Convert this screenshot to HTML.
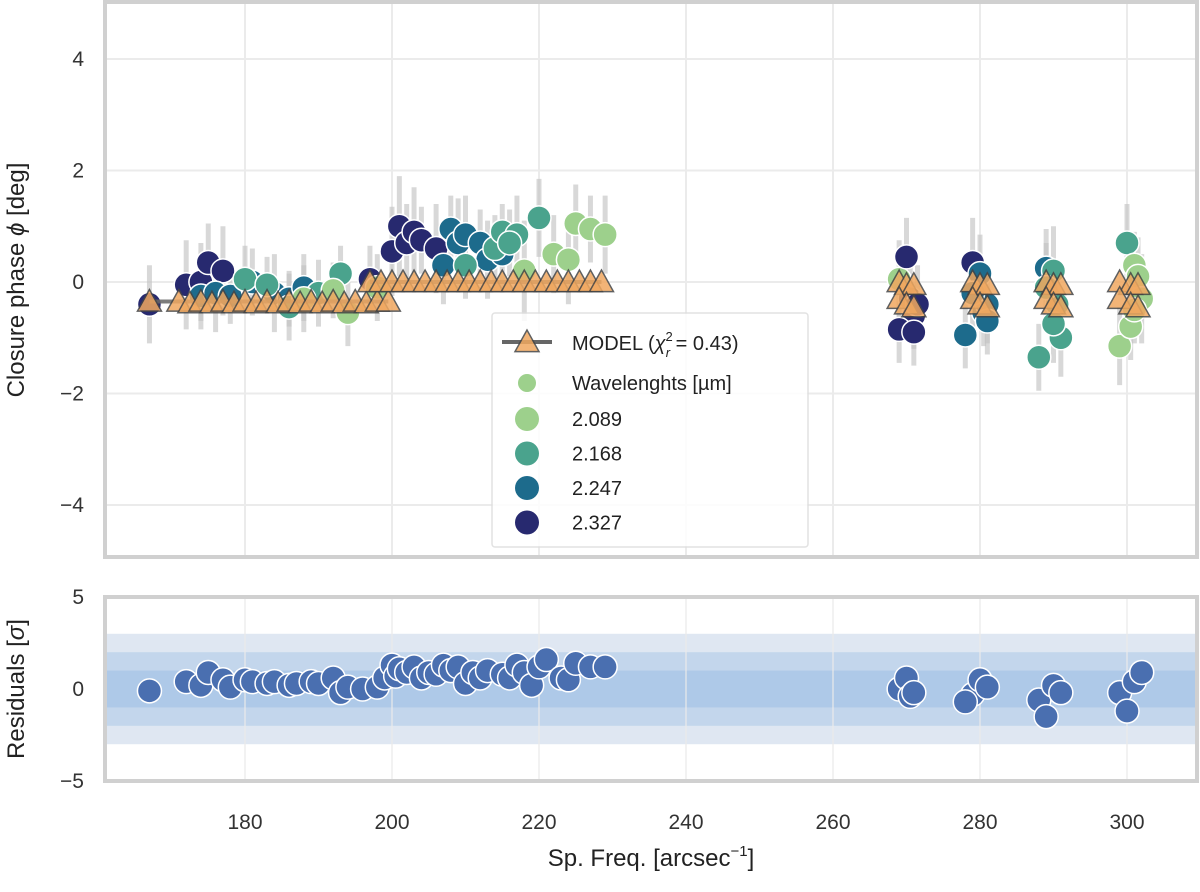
<!DOCTYPE html>
<html><head><meta charset="utf-8"><style>
body{margin:0;background:#fff;font-family:"Liberation Sans",sans-serif}
</style></head><body>
<svg id="c" width="1200" height="887" xmlns="http://www.w3.org/2000/svg" font-family="Liberation Sans, sans-serif"></svg>
<script>
const xTicks=[180,200,220,240,260,280,300];
const yTicksTop=[4,2,0,-2,-4];
const yTicksBot=[5,0,-5];
const wlLabels=["2.089","2.168","2.247","2.327"];
const wlColors=["#9dd08c","#4aa38d","#1d6b8c","#27296f"];
// data points: frequency, phase, error, wavelength index
const ptFreq=[167,172,174,175,177,197,200,201,202,203,204,206, 174,176,178,181,184,186,188,207,208,209,210,212,213,215, 180,183,186,190,193,210,214,215,217,220,216, 188,192,194,198,218,222,224,225,227,229,
 269,270,270.5,271,271.5,269,271, 279,280,280.5,281,279,278,281, 289,290,290.5,291,288,290,289, 300,301,301.5,302,299,300.5,301];
const ptPhase=[-0.4,-0.05,0.0,0.35,0.2,0.05,0.55,1.0,0.7,0.9,0.75,0.6, -0.25,-0.2,-0.25,0.0,-0.2,-0.3,-0.1,0.3,0.95,0.7,0.85,0.7,0.4,0.5, 0.05,-0.05,-0.45,-0.2,0.15,0.3,0.6,0.9,0.85,1.15,0.7, -0.3,-0.15,-0.55,-0.1,0.2,0.5,0.4,1.05,0.95,0.85,
 0.05,0.45,-0.3,-0.6,-0.4,-0.85,-0.9, 0.35,0.15,-0.55,-0.4,-0.2,-0.95,-0.7, 0.25,0.2,-0.4,-1.0,-1.35,-0.75,-0.1, 0.7,0.3,0.1,-0.3,-1.15,-0.8,-0.5];
const ptErr=[0.7,0.8,0.7,0.7,0.8,0.6,0.8,0.9,0.7,0.8,0.6,0.8, 0.6,0.7,0.5,0.6,0.7,0.5,0.6,0.7,0.6,0.8,0.7,0.6,0.7,0.6, 0.6,0.5,0.6,0.6,0.5,0.6,0.6,0.5,0.7,0.7,0.6, 0.6,0.5,0.6,0.6,0.9,0.7,0.8,0.7,0.6,0.7,
 0.7,0.7,0.6,0.6,0.7,0.6,0.6, 0.8,0.7,0.6,0.7,0.7,0.6,0.6, 0.7,0.8,0.6,0.7,0.6,0.7,0.8, 0.7,0.6,0.7,0.8,0.7,0.6,0.6];
const ptWl=[3,3,3,3,3,3,3,3,3,3,3,3, 2,2,2,2,2,2,2,2,2,2,2,2,2,2, 1,1,1,1,1,1,1,1,1,1,1, 0,0,0,0,0,0,0,0,0,0,0,
 3,3,3,3,3,3,3, 2,2,2,2,2,2,2, 1,1,1,1,1,1,1, 0,0,0,0,0,0,0];
const modelFreq=[167,171,172.5,174,175.5,177,178.5,180,181.5,183,184.5,186,187.5,189,190.5,192,193.5,195,196.5,198,199.5,
 197,198.5,200,201.5,203,204.5,206,207.5,209,210.5,212,213.5,215,216.5,218,219.5,221,222.5,224,225.5,227,228.5,
 269,270,271,269,270,271, 279,280,281,279,280,281, 289,290,291,289,290,291, 299,300.5,301.5,299,300.5,301.5];
const modelPhase=[-0.35,-0.35,-0.38,-0.35,-0.38,-0.35,-0.38,-0.35,-0.38,-0.35,-0.38,-0.35,-0.38,-0.35,-0.38,-0.35,-0.38,-0.35,-0.38,-0.35,-0.35,
 0.0,0.0,0.0,0.0,0.0,0.0,0.0,0.0,0.0,0.0,0.0,0.0,0.0,0.0,0.0,0.0,0.0,0.0,0.0,0.0,0.0,0.0,
 0.0,-0.05,-0.05,-0.3,-0.4,-0.45, 0.0,-0.05,-0.05,-0.3,-0.4,-0.45, 0.0,-0.05,-0.05,-0.3,-0.4,-0.45, 0.0,-0.05,-0.05,-0.3,-0.4,-0.45];
const resFreq=[167,172,174,175,177,178,180,181,183,184,186,187,189,190,192,193,194,196,198,199,200,200.5,201,202,203,204,205,206,207,208,209,210,211,212,213,215,216,217,218,219,220,221,223,224,225,227,229,
 269,270,270.5,271,279,278,280,281,288,289,290,291,299,300,301,302];
const resVal=[-0.1,0.4,0.2,0.9,0.5,0.1,0.5,0.4,0.3,0.4,0.2,0.3,0.4,0.3,0.6,-0.2,0.1,0.0,0.1,0.6,1.3,0.7,1.1,0.9,1.2,0.6,0.9,0.8,1.3,1.0,1.2,0.3,0.9,0.6,1.0,0.8,0.6,1.3,0.9,0.2,1.2,1.6,0.6,0.5,1.4,1.2,1.2,
 0.0,0.6,-0.4,-0.2,-0.3,-0.7,0.5,0.1,-0.6,-1.5,0.2,-0.2,-0.2,-1.2,0.4,0.9];

const NS='http://www.w3.org/2000/svg';
const svg=document.getElementById('c');
function el(t,a,p){const e=document.createElementNS(NS,t);for(const k in a)e.setAttribute(k,a[k]);(p||svg).appendChild(e);return e;}
const X=v=>245+(v-180)*7.35;
const YT=v=>282-v*55.75;
const YB=v=>689-v*18.4;
const L=105,R=1197;

const topG=el('g',{});


xTicks.forEach(t=>{const g=el('line',{x1:X(t),x2:X(t),y1:2,y2:556,stroke:'#ebebeb','stroke-width':2},topG);
 });
yTicksTop.forEach(t=>{const g=el('line',{x1:L,x2:R,y1:YT(t),y2:YT(t),stroke:'#ebebeb','stroke-width':2},topG);
 
 const tx=el('text',{x:84,y:YT(t)+7,'text-anchor':'end','font-size':21,fill:'#333'},topG);tx.textContent=(t<0?'\u2212'+(-t):t);
 });
ptFreq.forEach((f,i)=>{const b=el('line',{x1:X(f),x2:X(f),y1:YT(ptPhase[i]+ptErr[i]),y2:YT(ptPhase[i]-ptErr[i]),stroke:'#c4c4c4','stroke-width':5,opacity:0.65},topG);
 });
ptFreq.forEach((f,i)=>{const c=el('circle',{cx:X(f),cy:YT(ptPhase[i]),r:12,fill:wlColors[ptWl[i]],stroke:'#fff','stroke-width':1.5},topG);
 });
const lowIdx=[...Array(21).keys()], hiIdx=[...Array(22).keys()].map(k=>k+21);
[lowIdx,hiIdx].forEach(ix=>{const ln=el('line',{x1:X(modelFreq[ix[0]]),x2:X(modelFreq[ix[ix.length-1]]),y1:YT(modelPhase[ix[0]]),y2:YT(modelPhase[ix[0]]),stroke:'#666','stroke-width':4,opacity:0.85},topG);
 });
function tri(cx,cy,p){const s=12;const t=el('polygon',{points:`${cx},${cy-s} ${cx-s},${cy+s*0.8} ${cx+s},${cy+s*0.8}`,fill:'#f0a860',opacity:0.85,stroke:'#444','stroke-width':1.5},p);return t;}
modelFreq.forEach((f,i)=>{const t=tri(X(f),YT(modelPhase[i]),topG);});
const f1=el('rect',{x:L,y:2,width:R-L,height:555,fill:'none',stroke:'#d0d0d0','stroke-width':4},topG);

const yl=el('text',{x:24,y:280,'text-anchor':'middle','font-size':24,fill:'#222',transform:'rotate(-90 24 280)'},topG);
yl.innerHTML='Closure phase <tspan font-style="italic">ϕ</tspan> [deg]';


const lg=el('g',{});
el('rect',{x:492,y:313,width:316,height:234,fill:'#fff',opacity:0.85,stroke:'#ddd','stroke-width':1.5,rx:3},lg);
el('line',{x1:502,x2:552,y1:342,y2:342,stroke:'#666','stroke-width':4},lg);
tri(527,342,lg);
const lt=el('text',{x:572,y:350,'font-size':20,fill:'#222'},lg);
lt.innerHTML='MODEL (<tspan font-style="italic">χ</tspan><tspan font-size="13" dy="-9">2</tspan><tspan font-size="13" font-style="italic" dx="-7" dy="16">r</tspan><tspan dy="-7"> = 0.43)</tspan>';

el('circle',{cx:527,cy:383,r:9,fill:'#9dd08c'},lg);
const wt=el('text',{x:572,y:390,'font-size':20,fill:'#222'},lg);wt.textContent='Wavelenghts [µm]';

wlLabels.forEach((s,i)=>{const cy=419+i*34.5;el('circle',{cx:527,cy:cy,r:12,fill:wlColors[i]},lg);
 const t=el('text',{x:572,y:cy+7,'font-size':20,fill:'#222'},lg);t.textContent=s;
 });

const bot=el('g',{});
[[3,'#dfe7f2'],[2,'#c3d6ec'],[1,'#aec9e8']].forEach(([k,c])=>{const r=el('rect',{x:L,y:YB(k),width:R-L,height:YB(-k)-YB(k),fill:c},bot);
 });
xTicks.forEach(t=>{el('line',{x1:X(t),x2:X(t),y1:598,y2:780,stroke:'#ebebeb','stroke-width':2,opacity:0.6},bot);
 const tx=el('text',{x:X(t),y:829,'text-anchor':'middle','font-size':21,fill:'#333'});tx.textContent=t;
 });
yTicksBot.forEach(t=>{const tx=el('text',{x:84,y:YB(t)+7,'text-anchor':'end','font-size':21,fill:'#333'},bot);tx.textContent=(t<0?'\u2212'+(-t):t);
 });
resFreq.forEach((f,i)=>{const c=el('circle',{cx:X(f),cy:YB(resVal[i]),r:12,fill:'#4a6fb0',stroke:'#fff','stroke-width':1.5},bot);
 });
const f2=el('rect',{x:L,y:597,width:R-L,height:184,fill:'none',stroke:'#d0d0d0','stroke-width':4},bot);

const yl2=el('text',{x:24,y:689,'text-anchor':'middle','font-size':24,fill:'#222',transform:'rotate(-90 24 689)'},bot);
yl2.innerHTML='Residuals [<tspan font-style="italic">σ</tspan>]';

const xl=el('text',{x:651,y:866,'text-anchor':'middle','font-size':24,fill:'#222'});
xl.innerHTML='Sp. Freq. [arcsec<tspan font-size="15" dy="-10">−1</tspan><tspan dy="10">]</tspan>';

</script>
</body></html>
